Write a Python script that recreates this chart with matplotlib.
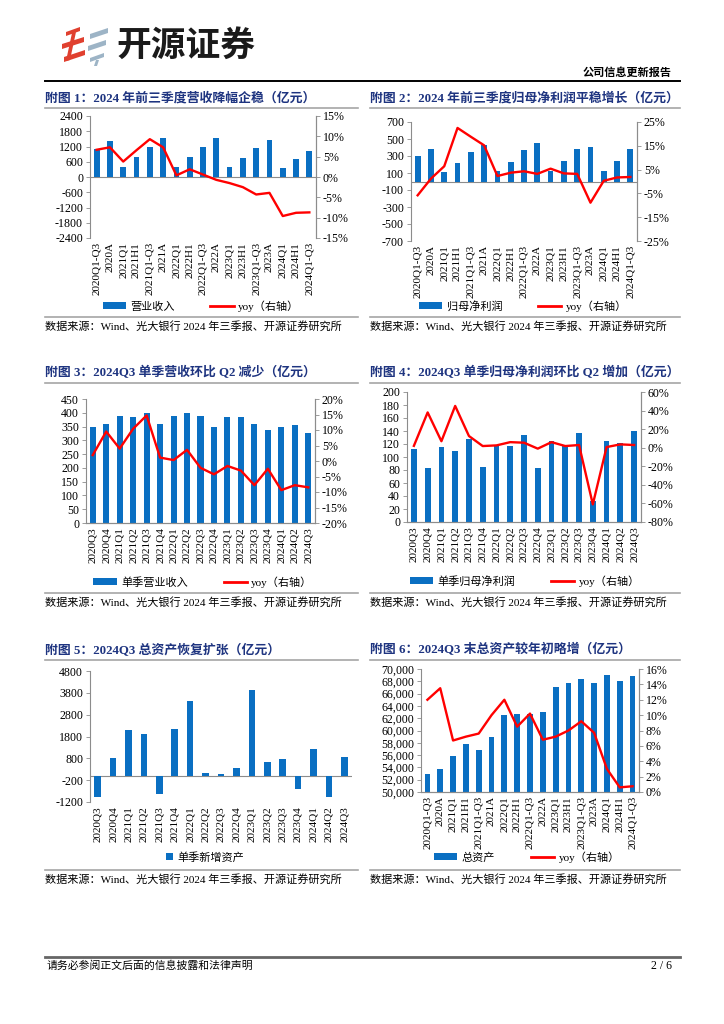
import numpy as np
import matplotlib
matplotlib.use('Agg')
import matplotlib.pyplot as plt
from matplotlib.patches import Patch, Polygon
from matplotlib.lines import Line2D
from matplotlib.ticker import FuncFormatter

plt.rcParams['font.family'] = ['Liberation Serif', 'Noto Sans CJK SC']
plt.rcParams['axes.unicode_minus'] = False

W, H = 724, 1024
BLUE = '#0A6FC2'
RED = '#FF0000'
NAVY = '#1E3480'
GREY = '#8C8C8C'

# ---------------------------------------------------------------------------
# data
# ---------------------------------------------------------------------------
cum_cats = ['2020Q1-Q3', '2020A', '2021Q1', '2021H1', '2021Q1-Q3', '2021A',
            '2022Q1', '2022H1', '2022Q1-Q3', '2022A', '2023Q1', '2023H1',
            '2023Q1-Q3', '2023A', '2024Q1', '2024H1', '2024Q1-Q3']
q_cats = ['2020Q3', '2020Q4', '2021Q1', '2021Q2', '2021Q3', '2021Q4',
          '2022Q1', '2022Q2', '2022Q3', '2022Q4', '2023Q1', '2023Q2',
          '2023Q3', '2023Q4', '2024Q1', '2024Q2', '2024Q3']

revenue = [1103, 1425, 388, 774, 1173, 1527, 395, 780, 1171, 1516,
           385, 767, 1125, 1456, 345, 698, 1024]
revenue_yoy = [6.7, 7.3, 3.8, 6.6, 9.3, 7.3, 0.4, 1.9, 0.6, -0.7,
               -1.5, -2.5, -4.3, -3.9, -9.6, -8.8, -8.7]

profit = [296, 378, 112, 221, 350, 434, 119, 233, 366, 449,
          120, 241, 378, 409, 123, 245, 386]
profit_yoy = [-5.8, 1.2, 6.4, 22.5, 18.8, 15.2, 2.3, 3.7, 4.3, 3.2,
              5.4, 3.4, 3.2, -8.9, 0.3, 1.7, 1.9]

q_revenue = [349, 359, 389, 386, 400, 361, 390, 400, 390, 347,
             383, 385, 360, 337, 347, 355, 328]
q_revenue_yoy = [1.9, 9.5, 4.0, 10.4, 14.7, 1.1, 0.3, 3.6, -2.2, -4.3,
                 -1.6, -3.1, -7.8, -2.5, -9.4, -7.8, -8.5]

q_profit = [113, 83, 115.5, 110, 127, 84, 118.5, 116.5, 133.5, 83,
            124.5, 118, 136.5, 32, 124.5, 121, 140]
q_profit_yoy = [2, 38, 7, 45, 12.6, 1.8, 2.5, 6, 5.4, -1,
                6, 1.8, 2.9, -61, 0.7, 3.6, 2.9]

q_new_assets = [-985, 805, 2120, 1905, -830, 2150, 3435, 115, 100, 360,
                3925, 650, 775, -605, 1250, -970, 880]

assets = [52940, 53681, 55830, 57790, 56870, 59021, 62530, 62700, 62700, 63001,
          67000, 67660, 68420, 67727, 69070, 68040, 68910]
assets_yoy = [12.0, 13.5, 6.7, 7.2, 7.6, 10.0, 12.0, 8.5, 10.2, 6.8,
              7.2, 8.0, 9.2, 7.7, 3.0, 0.6, 0.75]

SOURCE = '数据来源：Wind、光大银行 2024 年三季报、开源证券研究所'

YTICK_FS = 8.6
XTICK_FS = 8
TEXT_FS = 8


def rect(l, r, t, b):
    return [l / W, 1 - b / H, (r - l) / W, (b - t) / H]


def hline(fig, x1, x2, y, color='#A6A6A6', lw=1.2):
    fig.add_artist(Line2D([x1 / W, x2 / W], [1 - y / H, 1 - y / H],
                          transform=fig.transFigure, color=color, lw=lw))


def ftext(fig, x, y, s, **kw):
    kw.setdefault('va', 'center')
    fig.text(x / W, 1 - y / H, s, **kw)


def num_fmt(v, pos):
    return '%d' % round(v)


def comma_fmt(v, pos):
    return '{:,.0f}'.format(v)


def pct_fmt(v, pos):
    return '%d%%' % round(v)


def style_axis(ax, bottom_line):
    ax.spines['top'].set_visible(False)
    ax.spines['bottom'].set_visible(bottom_line)
    for side in ['left', 'right', 'bottom']:
        ax.spines[side].set_color(GREY)
        ax.spines[side].set_linewidth(0.8)
    ax.tick_params(axis='y', labelsize=YTICK_FS, length=3, width=0.6, color=GREY, pad=2)
    ax.tick_params(axis='x', labelsize=XTICK_FS, length=0, pad=3)


def panel(fig, box, cats, bars, ylim, yticks, yfmt, yoy=None, rlim=None,
          rticks=None, width=0.45, right_spine=True):
    ax = fig.add_axes(box)
    x = np.arange(len(cats))
    ax.bar(x, bars, width=width, color=BLUE, zorder=2)
    ax.set_xlim(-0.5, len(cats) - 0.5)
    ax.set_ylim(*ylim)
    ax.set_yticks(yticks)
    ax.yaxis.set_major_formatter(FuncFormatter(yfmt))
    ax.set_xticks(x)
    ax.set_xticklabels(cats, rotation=90)
    ax.set_facecolor('none')
    bottom_line = ylim[0] >= 0
    style_axis(ax, bottom_line)
    ax.spines['right'].set_visible(right_spine)
    if not bottom_line:
        ax.axhline(0, color=GREY, lw=0.8, zorder=1)
    if yoy is not None:
        ax2 = ax.twinx()
        ax2.plot(x, yoy, color=RED, lw=1.7, zorder=3)
        ax2.set_ylim(*rlim)
        ax2.set_yticks(rticks)
        ax2.yaxis.set_major_formatter(FuncFormatter(pct_fmt))
        style_axis(ax2, bottom_line)
        ax2.spines['left'].set_visible(False)
    return ax


def legend(fig, ax, cx, cy, bar_name, with_line=True, square=False):
    handles = [Patch(facecolor=BLUE, edgecolor='none')]
    labels = [bar_name]
    if with_line:
        handles.append(Line2D([], [], color=RED, lw=2))
        labels.append('yoy（右轴）')
    ax.legend(handles, labels, loc='center', bbox_to_anchor=(cx / W, 1 - cy / H),
              bbox_transform=fig.transFigure, ncol=2, frameon=False,
              fontsize=TEXT_FS, handlelength=0.7 if square else 2.1,
              handleheight=0.7 if square else 0.55, columnspacing=3.2,
              handletextpad=0.4)


def frame(fig, x1, x2, title_y, title, src_y):
    ftext(fig, x1, title_y, title, color=NAVY, fontsize=9.3, fontweight='bold')
    hline(fig, x1, x2, title_y + 10)
    hline(fig, x1, x2, src_y - 9)
    ftext(fig, x1, src_y, SOURCE, fontsize=TEXT_FS)


fig = plt.figure(figsize=(W / 100, H / 100), dpi=100)

# ---------------------------------------------------------------------------
# page header / footer
# ---------------------------------------------------------------------------
red_shapes = [[(66, 32), (80, 27), (80, 31), (66, 36)],
              [(62, 44), (84, 37), (84, 42), (62, 49)],
              [(64, 57), (85, 50), (85, 55), (64, 62)],
              [(72, 33), (76, 32), (70, 60), (66, 61)]]
grey_shapes = [[(90, 34), (108, 28), (108, 33), (90, 39)],
               [(88, 46), (106, 40), (106, 45), (88, 51)],
               [(90, 58), (104, 53), (104, 57), (90, 62)],
               [(96, 60), (99, 60), (97, 66), (94, 66)]]
for pts, col in [(p, '#E0402F') for p in red_shapes] + [(p, '#9DB4C6') for p in grey_shapes]:
    fig.add_artist(Polygon([(x / W, 1 - y / H) for x, y in pts], closed=True,
                           transform=fig.transFigure, facecolor=col, edgecolor='none'))
ftext(fig, 116, 45, '开源证券', family='Noto Sans CJK SC', fontweight='bold',
      fontsize=25, color='#1A1A1A')
ftext(fig, 672, 73, '公司信息更新报告', fontsize=8, fontweight='bold', ha='right')
hline(fig, 45, 680, 81, color='black', lw=1.4)

hline(fig, 45, 680, 957, color='#666666', lw=2)
ftext(fig, 47, 966, '请务必参阅正文后面的信息披露和法律声明', fontsize=7.8)
ftext(fig, 672, 966, '2 / 6', fontsize=8.5, ha='right')

# ---------------------------------------------------------------------------
# 附图 1
# ---------------------------------------------------------------------------
frame(fig, 45, 358, 98, '附图 1：2024 年前三季度营收降幅企稳（亿元）', 326)
ax1 = panel(fig, rect(90, 316, 116, 238), cum_cats, revenue,
            (-2400, 2400), np.arange(-2400, 2401, 600), num_fmt,
            revenue_yoy, (-15, 15), np.arange(-15, 16, 5), width=0.43)
legend(fig, ax1, 201, 306, '营业收入')

# 附图 2
frame(fig, 370, 680, 98, '附图 2：2024 年前三季度归母净利润平稳增长（亿元）', 326)
ax2 = panel(fig, rect(411, 637, 122, 241), cum_cats, profit,
            (-700, 700), np.arange(-700, 701, 200), num_fmt,
            profit_yoy, (-25, 25), np.arange(-25, 26, 10), width=0.43)
legend(fig, ax2, 523, 306, '归母净利润')

# 附图 3
frame(fig, 45, 358, 373, '附图 3：2024Q3 单季营收环比 Q2 减少（亿元）', 602)
ax3 = panel(fig, rect(86, 315, 399, 523), q_cats, q_revenue,
            (0, 450), np.arange(0, 451, 50), num_fmt,
            q_revenue_yoy, (-20, 20), np.arange(-20, 21, 5), width=0.45)
legend(fig, ax3, 203, 582, '单季营业收入')

# 附图 4
frame(fig, 370, 680, 373, '附图 4：2024Q3 单季归母净利润环比 Q2 增加（亿元）', 602)
ax4 = panel(fig, rect(407, 641, 392, 522), q_cats, q_profit,
            (0, 200), np.arange(0, 201, 20), num_fmt,
            q_profit_yoy, (-80, 60), np.arange(-80, 61, 20), width=0.42)
legend(fig, ax4, 525, 581, '单季归母净利润')

# 附图 5
frame(fig, 45, 358, 650, '附图 5：2024Q3 总资产恢复扩张（亿元）', 879)
ax5 = panel(fig, rect(90, 352, 671, 802), q_cats, q_new_assets,
            (-1200, 4800), np.arange(-1200, 4801, 1000), num_fmt,
            width=0.43, right_spine=False)
legend(fig, ax5, 205, 857, '单季新增资产', with_line=False, square=True)

# 附图 6
frame(fig, 370, 680, 650, '附图 6：2024Q3 末总资产较年初略增（亿元）', 879)
ax6 = panel(fig, rect(421, 639, 669, 792), cum_cats, assets,
            (50000, 70000), np.arange(50000, 70001, 2000), comma_fmt,
            assets_yoy, (0, 16), np.arange(0, 17, 2), width=0.45)
legend(fig, ax6, 527, 857, '总资产')

fig.savefig('out.png', dpi=100)
